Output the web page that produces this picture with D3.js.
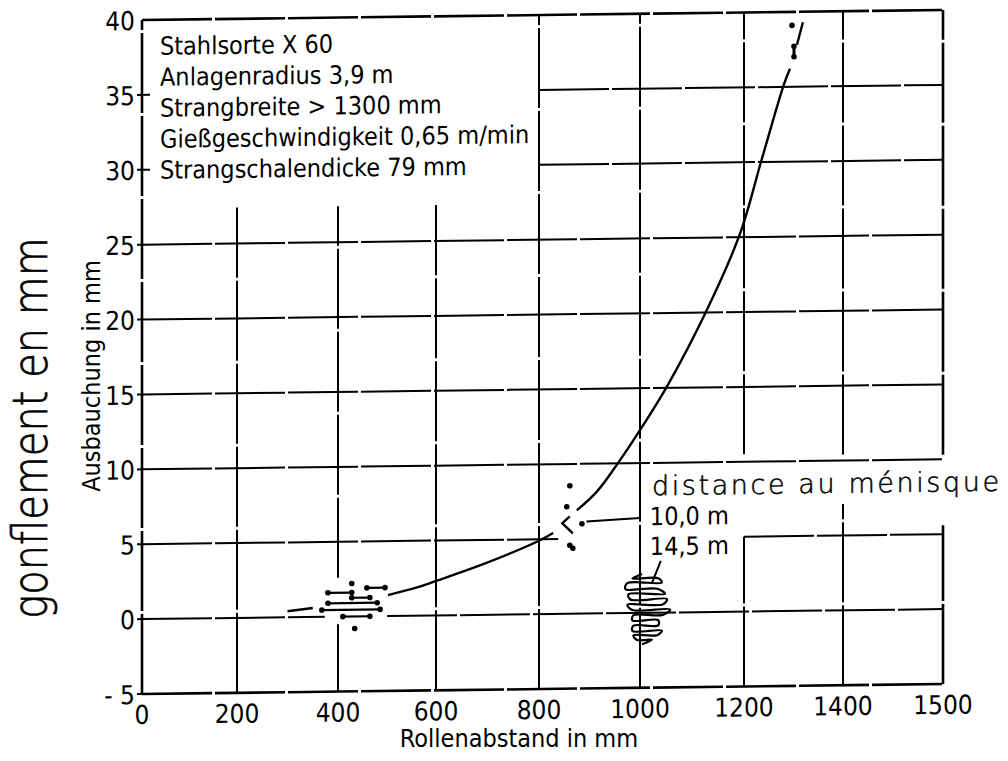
<!DOCTYPE html>
<html>
<head>
<meta charset="utf-8">
<script src="https://cdn.jsdelivr.net/npm/d3@7/dist/d3.min.js"></script>
<style>
  body { margin: 0; background: #fff; }
  svg { display: block; }
</style>
</head>
<body>
<div class="board"></div>
<script>
var width = 1008;
var height = 761;

// axis ticks (the last x tick is printed 1500 in the original)
var xTicks = [0, 200, 400, 600, 800, 1000, 1200, 1400, 1600];
var xTickLabels = ['0', '200', '400', '600', '800', '1000', '1200', '1400', '1500'];
var yTicks = [-5, 0, 5, 10, 15, 20, 25, 30, 35, 40];

// fitted curve, Rollenabstand (mm) vs Ausbauchung (mm), drawn in pieces
var curveLow = [[300, 0.4], [350, 0.6]];
var curveMid = [[502, 1.4], [563, 1.9], [600, 2.3], [685, 3.3], [800, 4.9], [828, 5.4]];
var curveHigh = [[875, 6.9], [915, 8.15], [956, 10], [1000, 12.2], [1052, 15.1],
                 [1129, 20.2], [1192, 25.2], [1236, 30.2], [1281, 35.2], [1293, 36.2]];
var curveTop = [[1307, 37.8], [1319, 39.3]];

// 10,0 m from meniscus: scatter near 400-500 mm as [x1, x2, y]
var bars400 = [[380, 428, 1.6], [459, 496, 1.9], [428, 465, 1.25],
               [380, 480, 0.9], [368, 486, 0.45], [410, 465, 0.0]];
var dots400 = [[428, 2.2], [434, -0.8]];

// 10,0 m: points near 860 mm
var dots860 = [[861, 8.55], [855, 7.15], [885, 6.0], [861, 4.57], [867, 4.37]];
var hook860 = [[861, 6.5], [846, 6.05], [867, 5.37]];

// points at the top end of the curve
var dotsTop = [[1297, 39.1], [1301, 37.0], [1301, 37.7]];

// 14,5 m from meniscus: coil at 1000 mm, rows [left, right, y]
var coil1000 = [[985, 1035, 2.3], [975, 1042, 2.0], [971, 1033, 1.6], [977, 1048, 1.25],
                [981, 1052, 0.9], [975, 1044, 0.55], [985, 1058, 0.2], [987, 1044, -0.15],
                [985, 1035, -0.5], [987, 1035, -0.85], [985, 1042, -1.2], [987, 1033, -1.5],
                [994, 1023, -1.8]];

// grid pieces: horizontal [y, x1, x2], vertical [x, y1, y2]
var hGrid = [[-5, 0, 1600], [0, 0, 374], [0, 500, 1600], [5, 0, 838], [5, 1200, 1600],
             [10, 0, 1600], [15, 0, 1600], [20, 0, 1600], [25, 0, 1600],
             [30, 800, 1600], [35, 800, 1600], [40, 0, 1600]];
var vGrid = [[0, -5, 40], [200, -5, 27.4], [400, -5, -0.5], [400, 2.6, 27.4], [600, -5, 27.4],
             [800, -5, 40], [1000, -5, 40], [1200, 10.5, 40], [1200, -5, 5],
             [1400, 10.4, 40], [1400, -5, 7.1], [1600, 10.3, 40], [1600, -5, 5.6]];

var infoLines = ['Stahlsorte X 60', 'Anlagenradius 3,9 m', 'Strangbreite > 1300 mm',
                 'Gießgeschwindigkeit 0,65 m/min', 'Strangschalendicke 79 mm'];

var narrow = '"Liberation Sans Narrow", "DejaVu Sans Condensed", sans-serif';
var light = '"DejaVu Sans", sans-serif';

var svg = d3.select('.board')
            .append('svg')
            .attr('width', width)
            .attr('height', height);

// hand drawn grid, so the x scale follows the drawn gridlines
var x = d3.scaleLinear()
          .domain(xTicks)
          .range([142, 237, 338, 436, 539, 640, 744, 843, 943]);
var y = d3.scaleLinear()
          .domain([-5, 40])
          .range([694, 20]);

// the scan is slightly skewed
var g = svg.append('g')
           .attr('transform', 'translate(0,' + (142 * 0.0125) + ') skewY(-0.716)');

g.selectAll('.hgrid')
 .data(hGrid)
 .enter()
 .append('line')
 .attr('x1', function(d) { return x(d[1]); })
 .attr('x2', function(d) { return x(d[2]); })
 .attr('y1', function(d) { return y(d[0]); })
 .attr('y2', function(d) { return y(d[0]); })
 .attr('stroke', '#000')
 .attr('stroke-width', function(d) { return (d[0] === -5 || d[0] === 40) ? 2.6 : 2; })
 .attr('stroke-dasharray', '70,3');

g.selectAll('.vgrid')
 .data(vGrid)
 .enter()
 .append('line')
 .attr('x1', function(d) { return x(d[0]); })
 .attr('x2', function(d) { return x(d[0]); })
 .attr('y1', function(d) { return y(d[1]); })
 .attr('y2', function(d) { return y(d[2]); })
 .attr('stroke', '#000')
 .attr('stroke-width', function(d) { return (d[0] === 0 || d[0] === 1600) ? 2.6 : 2; })
 .attr('stroke-dasharray', '80,3');

// small ticks on the left axis, longer at 30 and 35
g.selectAll('.ytick')
 .data(yTicks.slice(0, 9))
 .enter()
 .append('line')
 .attr('x1', x(0) - 5)
 .attr('x2', function(d) { return d >= 30 ? x(0) + 8 : x(0); })
 .attr('y1', function(d) { return y(d); })
 .attr('y2', function(d) { return y(d); })
 .attr('stroke', '#000')
 .attr('stroke-width', 2);

// tick labels
g.selectAll('.xlab')
 .data(xTicks)
 .enter()
 .append('text')
 .attr('x', function(d) { return x(d); })
 .attr('y', y(-5) + 30)
 .attr('text-anchor', 'middle')
 .style('font-family', narrow)
 .style('font-size', '26px')
 .text(function(d, i) { return xTickLabels[i]; });

g.selectAll('.ylab')
 .data(yTicks)
 .enter()
 .append('text')
 .attr('x', x(0) - 7)
 .attr('y', function(d) { return y(d) + 10; })
 .attr('text-anchor', 'end')
 .style('font-family', narrow)
 .style('font-size', '26px')
 .text(function(d) { return d === -5 ? '- 5' : d; });

// info block
g.selectAll('.info')
 .data(infoLines)
 .enter()
 .append('text')
 .attr('x', 160)
 .attr('y', function(d, i) { return 55 + i * 31; })
 .style('font-family', narrow)
 .style('font-size', '25px')
 .text(function(d) { return d; });

// curve pieces
var line = d3.line()
             .x(function(d) { return x(d[0]); })
             .y(function(d) { return y(d[1]); })
             .curve(d3.curveCatmullRom);

g.selectAll('.curve')
 .data([curveLow, curveMid, curveHigh, curveTop])
 .enter()
 .append('path')
 .attr('d', line)
 .attr('fill', 'none')
 .attr('stroke', '#000')
 .attr('stroke-width', 2.4);

// scatter near 400 mm
g.selectAll('.bar400')
 .data(bars400)
 .enter()
 .append('line')
 .attr('x1', function(d) { return x(d[0]); })
 .attr('x2', function(d) { return x(d[1]); })
 .attr('y1', function(d) { return y(d[2]); })
 .attr('y2', function(d) { return y(d[2]); })
 .attr('stroke', '#000')
 .attr('stroke-width', 2.2);

var barEnds = [];
bars400.forEach(function(d) {
  barEnds.push([d[0], d[2]]);
  barEnds.push([d[1], d[2]]);
});

g.selectAll('.dot')
 .data(barEnds.concat(dots400, dots860, dotsTop))
 .enter()
 .append('circle')
 .attr('cx', function(d) { return x(d[0]); })
 .attr('cy', function(d) { return y(d[1]); })
 .attr('r', 2.8)
 .attr('fill', '#000');

g.append('path')
 .attr('d', d3.line()
              .x(function(d) { return x(d[0]); })
              .y(function(d) { return y(d[1]); })(hook860))
 .attr('fill', 'none')
 .attr('stroke', '#000')
 .attr('stroke-width', 2.4);

g.append('line')
 .attr('x1', x(861)).attr('y1', y(4.57))
 .attr('x2', x(867)).attr('y2', y(4.37))
 .attr('stroke', '#000')
 .attr('stroke-width', 3);

g.append('line')
 .attr('x1', x(1301)).attr('y1', y(37.0))
 .attr('x2', x(1301)).attr('y2', y(37.7))
 .attr('stroke', '#000')
 .attr('stroke-width', 3);

// coil at 1000 mm, a serpentine through the rows
var coilPts = [[1004, 2.6]];
coil1000.forEach(function(d, i) {
  if (i % 2 === 0) {
    coilPts.push([d[0], d[2]]);
    coilPts.push([d[1], d[2]]);
  } else {
    coilPts.push([d[1], d[2]]);
    coilPts.push([d[0], d[2]]);
  }
});
coilPts.push([1004, -2.1]);

g.append('path')
 .attr('d', line(coilPts))
 .attr('fill', 'none')
 .attr('stroke', '#000')
 .attr('stroke-width', 2.2);

// callouts
g.selectAll('.callout')
 .data([[[894, 6.15], [1000, 6.34]], [[1040, 3.45], [1023, 2.0]]])
 .enter()
 .append('path')
 .attr('d', d3.line()
              .x(function(d) { return x(d[0]); })
              .y(function(d) { return y(d[1]); }))
 .attr('fill', 'none')
 .attr('stroke', '#000')
 .attr('stroke-width', 2);

g.append('text')
 .attr('x', x(1023))
 .attr('y', y(7.85))
 .style('font-family', light)
 .style('font-weight', 200)
 .style('font-size', '27px')
 .style('letter-spacing', '2.6px')
 .attr('stroke', '#000')
 .attr('stroke-width', 0.5)
 .text('distance au ménisque');

g.selectAll('.dist')
 .data(['10,0 m', '14,5 m'])
 .enter()
 .append('text')
 .attr('x', x(1019))
 .attr('y', function(d, i) { return y(i === 0 ? 5.85 : 3.85); })
 .style('font-family', narrow)
 .style('font-size', '25px')
 .text(function(d) { return d; });

// axis titles
svg.append('text')
   .attr('transform', 'translate(100,376) rotate(-90)')
   .attr('text-anchor', 'middle')
   .style('font-family', narrow)
   .style('font-size', '25px')
   .text('Ausbauchung in mm');

svg.append('text')
   .attr('x', 519)
   .attr('y', 747)
   .attr('text-anchor', 'middle')
   .style('font-family', narrow)
   .style('font-size', '25px')
   .text('Rollenabstand in mm');

svg.append('text')
   .attr('transform', 'translate(47,428) rotate(-90) scale(1,1.2)')
   .attr('text-anchor', 'middle')
   .style('font-family', light)
   .style('font-weight', 200)
   .style('font-size', '40px')
   .attr('stroke', '#000')
   .attr('stroke-width', 0.6)
   .text('gonflement en mm');
</script>
</body>
</html>
